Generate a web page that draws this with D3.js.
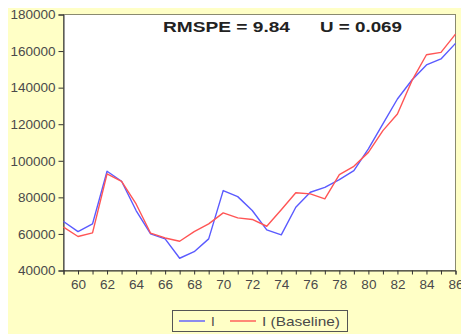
<!DOCTYPE html>
<html><head><meta charset="utf-8">
<script src="https://cdn.jsdelivr.net/npm/d3@7"></script>
<style>body{margin:0;background:#fff}svg{display:block}text{font-family:"Liberation Sans",Arial,sans-serif}</style>
</head><body>
<svg id="c" width="461" height="334"></svg>
<script>
const years = d3.range(1959, 1987);
const seriesI = [66800,61300,65500,94300,88800,72800,60000,57300,46700,50300,57300,83700,80400,72800,62200,59500,74600,82800,85500,89700,94600,106500,120200,133800,144200,152400,155700,164200];
const seriesBase = [63700,58600,60600,92800,88800,76400,60400,57800,56000,61300,65500,71500,68800,67900,64200,73200,82500,81900,79200,92400,97000,104600,116500,125600,143800,158000,159300,169300];
const yTicks = [40000,60000,80000,100000,120000,140000,160000,180000];
const xTickLabels = [60,62,64,66,68,70,72,74,76,78,80,82,84,86];
const seriesNames = ["I","I (Baseline)"];
const statsLabels = ["RMSPE = 9.84","U = 0.069"];

const svg = d3.select("#c");
svg.append("rect").attr("x",8).attr("y",8).attr("width",453).attr("height",326).attr("fill","#ffffc6");

const L=63.5,R=455.5,T=14.5,B=270.5;
const x = d3.scaleLinear().domain([1959,1986]).range([L,R]);
const y = d3.scaleLinear().domain([40000,180000]).range([B,T]);

svg.append("rect").attr("x",L).attr("y",T).attr("width",R-L).attr("height",B-T).attr("fill","#fff").attr("stroke","#8a8a70").attr("stroke-width",1);

const ya = svg.append("g").attr("transform",`translate(${L},0)`)
  .call(d3.axisLeft(y).tickValues(yTicks).tickFormat(d3.format("d")).tickSize(5).tickPadding(3));
const xa = svg.append("g").attr("transform",`translate(0,${B})`)
  .call(d3.axisBottom(x).tickValues(years).tickFormat(d => xTickLabels.includes(d%100) ? String(d%100) : "").tickSize(4).tickPadding(5));
[ya,xa].forEach(g=>{
  g.select(".domain").attr("stroke","#333");
  g.selectAll(".tick line").attr("stroke","#333");
  g.selectAll("text").attr("fill","#4a4a4a").style("font-size","13.5px").style("font-family","'Liberation Sans',Arial,sans-serif");
});

const line = d3.line().x((d,i)=>x(years[i])).y(d=>y(d));
svg.append("path").datum(seriesI).attr("d",line).attr("fill","none").attr("stroke","#5a5aff").attr("stroke-width",1.4).attr("stroke-linejoin","round");
svg.append("path").datum(seriesBase).attr("d",line).attr("fill","none").attr("stroke","#ff5555").attr("stroke-width",1.4).attr("stroke-linejoin","round");

svg.append("text").attr("x",163).attr("y",32).attr("textLength",127).attr("lengthAdjust","spacingAndGlyphs")
  .style("font-size","14px").style("font-weight","bold").attr("fill","#222").text(statsLabels[0]);
svg.append("text").attr("x",320).attr("y",32).attr("textLength",82).attr("lengthAdjust","spacingAndGlyphs")
  .style("font-size","14px").style("font-weight","bold").attr("fill","#222").text(statsLabels[1]);

// legend
const lg = svg.append("g");
lg.append("rect").attr("x",172.5).attr("y",310.5).attr("width",175).attr("height",21).attr("fill","none").attr("stroke","#555");
lg.append("line").attr("x1",179).attr("x2",205).attr("y1",321).attr("y2",321).attr("stroke","#5a5aff").attr("stroke-width",1.4);
lg.append("text").attr("x",211).attr("y",326).style("font-size","13.5px").attr("fill","#4a4a4a").text(seriesNames[0]);
lg.append("line").attr("x1",230).attr("x2",256).attr("y1",321).attr("y2",321).attr("stroke","#ff5555").attr("stroke-width",1.4);
lg.append("text").attr("x",262).attr("y",326).attr("textLength",78).attr("lengthAdjust","spacingAndGlyphs").style("font-size","13.5px").attr("fill","#4a4a4a").text(seriesNames[1]);
</script>
</body></html>
